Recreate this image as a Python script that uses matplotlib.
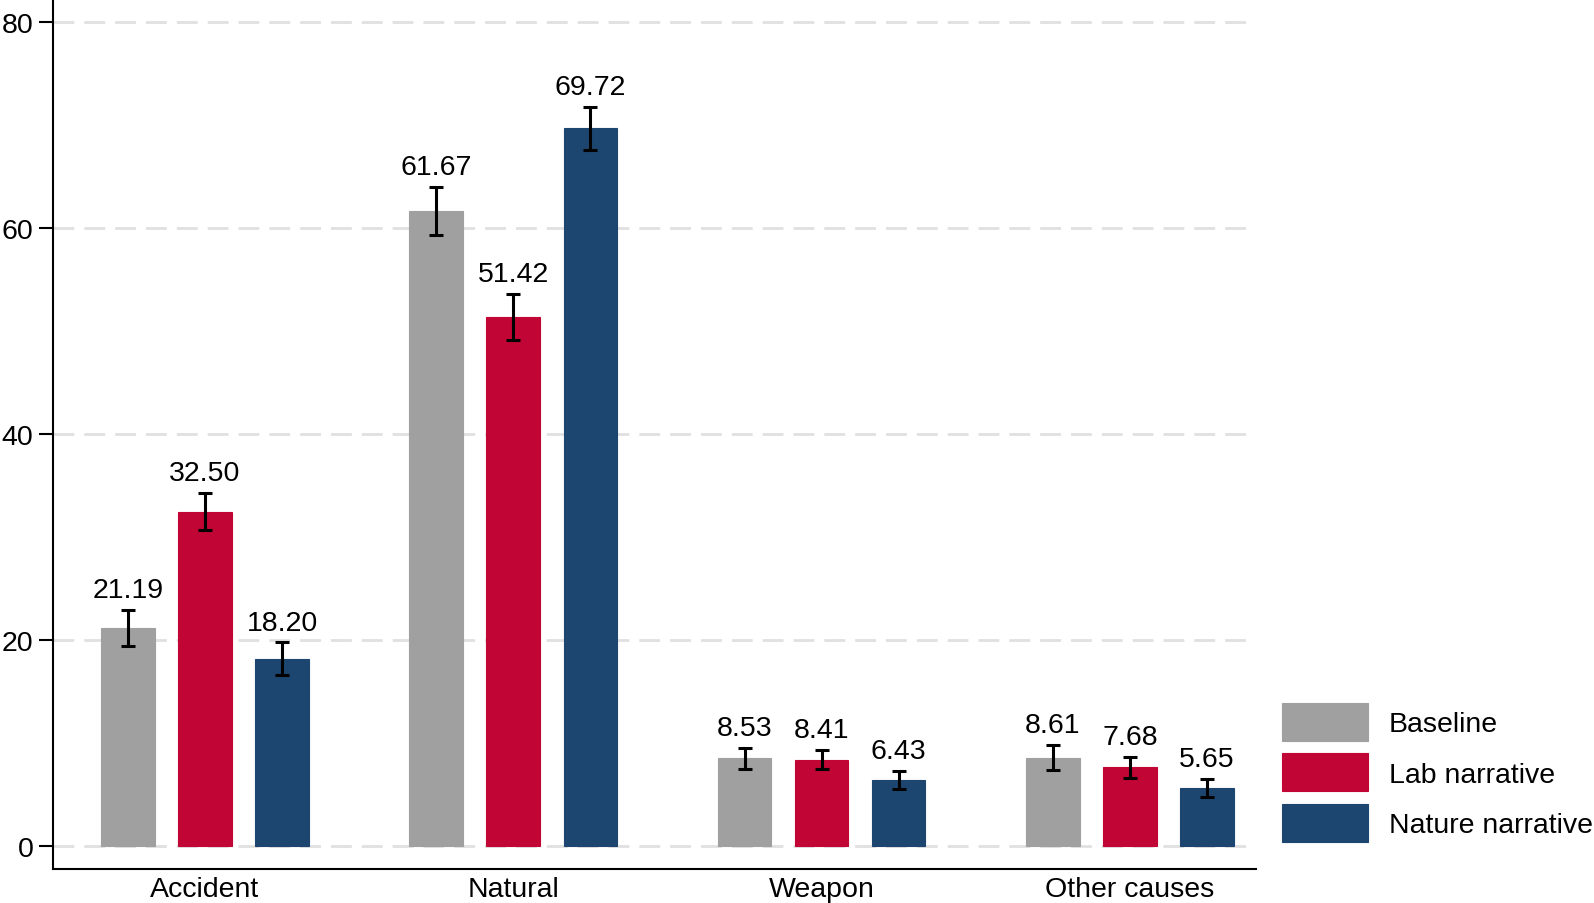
import matplotlib
matplotlib.use("Agg")
import matplotlib.pyplot as plt
import numpy as np

plt.rcParams['font.family'] = ['Liberation Sans', 'DejaVu Sans']

categories = ["Accident", "Natural", "Weapon", "Other causes"]
series = ["Baseline", "Lab narrative", "Nature narrative"]
baseline = [21.19, 61.67, 8.53, 8.61]
lab = [32.50, 51.42, 8.41, 7.68]
nature = [18.20, 69.72, 6.43, 5.65]
baseline_err = [1.72, 2.30, 1.05, 1.24]
lab_err = [1.78, 2.22, 0.95, 1.03]
nature_err = [1.59, 2.09, 0.91, 0.89]
yticks = [0, 20, 40, 60, 80]

colors = ["#A0A0A0", "#C10534", "#1C466F"]
values = [baseline, lab, nature]
errs = [baseline_err, lab_err, nature_err]

FS = 20.5

fig = plt.figure(figsize=(15.94, 9.04), dpi=100)
ax = fig.add_axes([53/1594, 34/904, (1256-53)/1594, 870/904])

x = np.arange(len(categories))
offsets = [-0.25, 0.0, 0.25]
width = 0.174
for vals, err, col, off, name in zip(values, errs, colors, offsets, series):
    ax.bar(x + off, vals, width, color=col, label=name, zorder=2,
           edgecolor=col, linewidth=0.8)
    ax.errorbar(x + off, vals, yerr=err, fmt='none', ecolor='black',
                elinewidth=2.2, capsize=5, capthick=2.2, zorder=3)
    for xi, v, e in zip(x + off, vals, err):
        ax.annotate(f"{v:.2f}", (xi, v + e), xytext=(0, 5),
                    textcoords='offset points', ha='center', va='bottom',
                    fontsize=FS)

ax.set_xlim(-0.493, 3.409)
ax.set_ylim(-2.2, 82.26)
ax.set_yticks(yticks)
ax.set_xticks(x)
ax.set_xticklabels(categories)
ax.tick_params(axis='y', length=10, width=1.5, labelsize=FS, pad=4)
ax.tick_params(axis='x', length=0, labelsize=FS, pad=5)
ax.yaxis.grid(True, color='#E0E0E0', linewidth=2, dashes=(7.5, 3.6), zorder=0)
ax.set_axisbelow(True)
for s in ['top', 'right']:
    ax.spines[s].set_visible(False)
for s in ['left', 'bottom']:
    ax.spines[s].set_linewidth(1.5)

handles, labels = ax.get_legend_handles_labels()
leg = fig.legend(handles, labels, loc='upper left',
                 bbox_to_anchor=(1282/1594, 1 - 704/904), frameon=False,
                 fontsize=FS, handlelength=3.02, handleheight=1.68,
                 labelspacing=0.43, handletextpad=0.73, borderpad=0,
                 borderaxespad=0)

fig.savefig("out.png", dpi=100)
